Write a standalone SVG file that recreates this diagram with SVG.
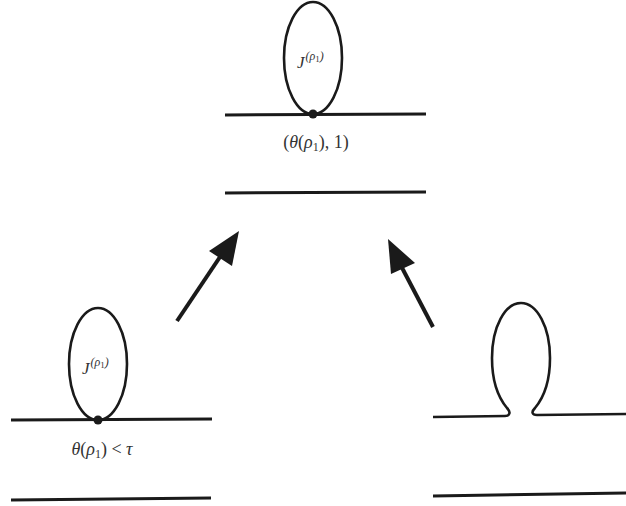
<svg xmlns="http://www.w3.org/2000/svg" width="626" height="506" viewBox="0 0 626 506">
<style>
.ln{stroke:#1a1a1a;stroke-width:3;fill:none;stroke-linecap:butt}
.lp{stroke:#1a1a1a;stroke-width:2.6;fill:none}
.tx{font-family:"Liberation Serif",serif;font-style:italic;fill:#333;font-size:17px}
.up{font-family:"Liberation Serif",serif;fill:#333;font-size:18px}
.ar{stroke:#1a1a1a;stroke-width:4;fill:none}
.hd{fill:#1a1a1a}
</style>
<rect width="626" height="506" fill="#fff"/>
<g id="top">
<line class="ln" x1="225" y1="115" x2="426" y2="114"/>
<ellipse class="lp" cx="313" cy="58" rx="29" ry="56"/>
<circle cx="313" cy="114" r="4.5" fill="#1a1a1a"/>
<text x="297" y="68" class="tx">J<tspan font-size="12" dx="1" dy="-8">(ρ</tspan><tspan font-style="normal" font-size="9" dy="2">1</tspan><tspan font-size="12" dy="-2">)</tspan></text>
<text x="316" y="148" text-anchor="middle" class="up">(<tspan font-style="italic">θ</tspan>(<tspan font-style="italic">ρ</tspan><tspan font-size="12" dy="3">1</tspan><tspan dy="-3">), 1)</tspan></text>
<line class="ln" x1="225" y1="193" x2="426" y2="192"/>
</g>
<g id="left">
<line class="ln" x1="11" y1="420" x2="212" y2="419"/>
<ellipse class="lp" cx="98" cy="364" rx="29" ry="56"/>
<circle cx="98" cy="420" r="4.5" fill="#1a1a1a"/>
<text x="82" y="374" class="tx">J<tspan font-size="12" dx="1" dy="-8">(ρ</tspan><tspan font-style="normal" font-size="9" dy="2">1</tspan><tspan font-size="12" dy="-2">)</tspan></text>
<text x="102" y="455" text-anchor="middle" class="up"><tspan font-style="italic">θ</tspan>(<tspan font-style="italic">ρ</tspan><tspan font-size="12" dy="3">1</tspan><tspan dy="-3">) &lt; </tspan><tspan font-style="italic">τ</tspan></text>
<line class="ln" x1="11" y1="500" x2="211" y2="498"/>
</g>
<g id="right">
<path class="lp" d="M433,417 L505,416 C510,416 511,412 507,408 C497,396 492,378 492,358 C492,327 505,303 521,303 C537,303 550,327 550,358 C550,378 545,396 535,408 C531,412 532,415 537,415 L626,414"/>
<line class="ln" x1="433" y1="496" x2="626" y2="493"/>
</g>
<g id="connectors">
<line class="ar" x1="177" y1="321" x2="222" y2="254"/>
<polygon class="hd" points="239,231 232,266 209,251"/>
<line class="ar" x1="433" y1="327" x2="399" y2="262"/>
<polygon class="hd" points="388,239 415,263 391,274"/>
</g>
</svg>
